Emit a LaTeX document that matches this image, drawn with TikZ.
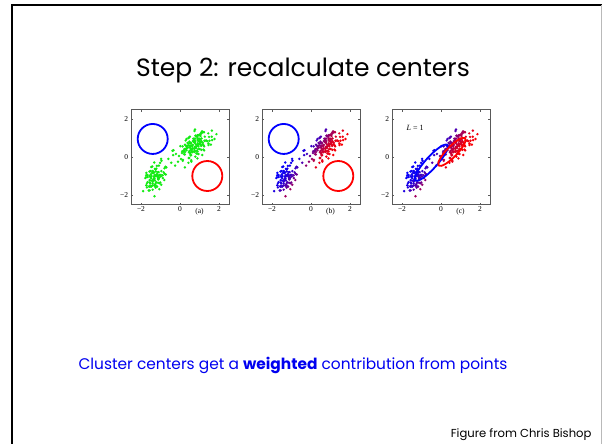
\documentclass[tikz,border=0pt]{standalone}
\usepackage{fontspec}
\setmainfont{Poppins}
\newfontfamily\axisfont{Liberation Serif}

\definecolor{ptgreen}{RGB}{20,235,20}
\definecolor{cblue}{RGB}{0,0,255}
\definecolor{cred}{RGB}{255,0,0}
\definecolor{txtblue}{RGB}{0,0,240}

\tikzset{
  frameline/.style={line width=2pt,black},
  axisbox/.style={line width=0.5pt,gray!70!black},
  ticklab/.style={font=\axisfont\fontsize{7.5}{8.5}\selectfont,inner sep=1.5pt},
  centre/.style={line width=1.8pt},
  dotmark/.style={radius=1.35pt},
}

% one sample point; #3 selects the colouring (0 = raw data, 1 = responsibilities)
\newcommand\sampledot[3]{%
  \ifcase#3\relax
    \fill[ptgreen] (#1,#2) circle[dotmark];
  \else
    \pgfmathsetmacro\redshare{100/(1+exp(-2.4*(1.4*#1-#2)))}%
    \fill[red!\redshare!blue] (#1,#2) circle[dotmark];
  \fi}

% the data set: two elongated clusters and a few points between them
\newcommand\datacloud[1]{%
  \pgfmathsetseed{2718}%
  \foreach \k in {1,...,165}{%
    \pgfmathsetmacro\ga{rand+rand+rand}%
    \pgfmathsetmacro\gb{rand+rand+rand}%
    \pgfmathsetmacro\px{0.82+0.707*(0.48*\ga-0.27*\gb)}%
    \pgfmathsetmacro\py{0.70+0.707*(0.48*\ga+0.27*\gb)}%
    \sampledot{\px}{\py}{#1}}%
  \foreach \k in {1,...,100}{%
    \pgfmathsetmacro\ga{rand+rand+rand}%
    \pgfmathsetmacro\gb{rand+rand+rand}%
    \pgfmathsetmacro\px{-1.32+0.42*\ga*cos(72)-0.21*\gb*sin(72)}%
    \pgfmathsetmacro\py{-1.15+0.42*\ga*sin(72)+0.21*\gb*cos(72)}%
    \sampledot{\px}{\py}{#1}}%
  \foreach \px/\py in {-0.95/-0.2,-0.6/-0.1,-0.45/-0.3,-0.25/-0.45,-0.1/-0.25,
      0.25/-0.55,-0.7/-0.55,-0.05/0.05,-0.35/0.1,0.15/-0.15}{%
    \sampledot{\px}{\py}{#1}}}

% axes frame with ticks and tick labels
\newcommand\axesframe[1]{%
  \draw[axisbox] (-2.5,-2.5) rectangle (2.5,2.5);
  \foreach \t/\lab in {-2/{\char"2212 2},0/0,2/2}{%
    \draw[axisbox] (\t,-2.5) -- ++(0,2pt) (\t,2.5) -- ++(0,-2pt)
                   (-2.5,\t) -- ++(2pt,0) (2.5,\t) -- ++(-2pt,0);
    \node[ticklab,anchor=north] at (\t,-2.5) {\lab};
    \node[ticklab,anchor=east,inner sep=3pt] at (-2.5,\t) {\lab};}
  \node[ticklab,anchor=north] at (1.0,-2.62) {(#1)};}

\begin{document}
\begin{tikzpicture}[x=1pt,y=-1pt]
  \useasboundingbox (0,0) rectangle (602,444);
  \fill[white] (0,0) rectangle (602,444);

  % slide frame
  \draw[frameline] (11,5.5) -- (602,5.5);
  \draw[frameline] (12,4.5) -- (12,444);
  \draw[gray!55,line width=1pt] (601,5) -- (601,444);

  \node[font=\fontsize{25}{30}\selectfont] (title) at (303,70) {Step 2: recalculate centers};

  % (a) raw data with initial centres
  \begin{scope}[shift={(180,157)},x=19.5pt,y=19pt]
    \axesframe{a}
    \datacloud{0}
    \draw[centre,cblue] (-1.4,0.95) circle[radius=15pt];
    \draw[centre,cred] (1.4,-1.0) circle[radius=15pt];
  \end{scope}

  % (b) responsibilities
  \begin{scope}[shift={(311,157)},x=19.5pt,y=19pt]
    \axesframe{b}
    \datacloud{1}
    \draw[centre,cblue] (-1.4,0.95) circle[radius=15pt];
    \draw[centre,cred] (1.4,-1.0) circle[radius=15pt];
  \end{scope}

  % (c) re-estimated components
  \begin{scope}[shift={(441,157)},x=19.5pt,y=19pt]
    \axesframe{c}
    \datacloud{1}
    \draw[centre,cblue] (-0.5,-0.3) circle[x radius=24pt,y radius=5.8pt,rotate=48];
    \draw[centre,cred] (0.56,0.27) circle[x radius=19pt,y radius=5.2pt,rotate=46];
    \node[font=\axisfont\fontsize{8}{9}\selectfont] (iter) at (-1.33,1.53) {\textit{L} = 1};
  \end{scope}

  \node[txtblue,font=\fontsize{15.4}{18}\selectfont] (caption) at (293,365)
    {Cluster centers get a \textbf{weighted} contribution from points};
  \node[anchor=east,font=\fontsize{11.6}{14}\selectfont] (credit) at (595,435)
    {Figure from Chris Bishop};
\end{tikzpicture}
\end{document}
